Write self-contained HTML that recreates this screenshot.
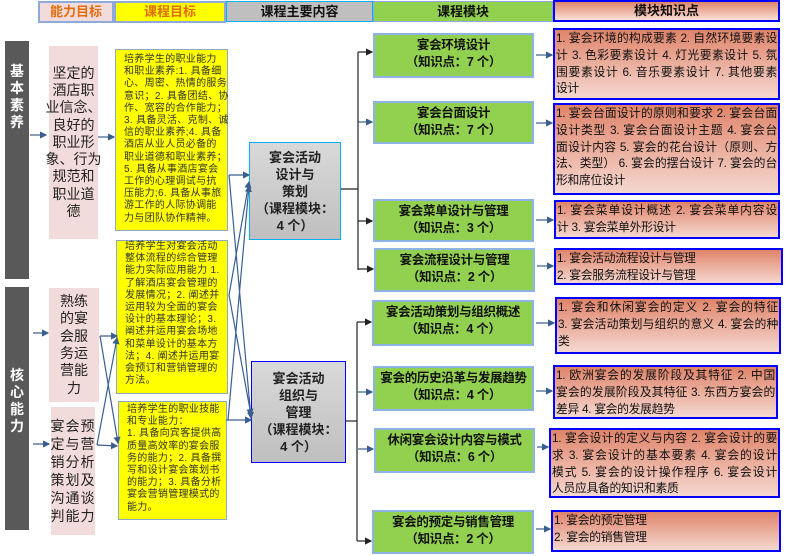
<!DOCTYPE html>
<html><head><meta charset="utf-8"><style>
body{margin:0;width:787px;height:556px;background:#fff;position:relative;overflow:hidden;font-family:"Liberation Sans","Noto Sans CJK SC",sans-serif}
.a{position:absolute;box-sizing:border-box}
.h{font-weight:bold;font-size:13px;text-align:center;line-height:17px}
.bar{background:#595959;color:#fff;font-weight:bold;font-size:14px;width:24px;display:block;text-align:center;line-height:17px}
.bar div{display:block;width:24px;height:17px;text-align:center}
.pk{background:#f2dcdb;color:#222;font-size:14px;line-height:17.3px;text-align:center;display:flex;align-items:center;justify-content:center;white-space:nowrap}
.ye{background:#ffff00;border:1px solid #8ea9c8;font-size:10px;line-height:12.2px;color:#333;padding:2px 4px;white-space:nowrap;letter-spacing:0.3px}
.gr{background:linear-gradient(#d9d9d9,#bfbfbf);font-weight:bold;font-size:13px;line-height:17px;text-align:center;display:flex;align-items:center;justify-content:center;color:#222}
.gn{background:#92d050;border:2px solid #8eb4e3;font-weight:bold;font-size:12.5px;line-height:17px;text-align:center;color:#111;padding-top:2px;letter-spacing:-0.3px}
.kn{background:linear-gradient(#e0846a,#f5d8d0);border:2px solid #0000ff;font-size:11.8px;line-height:16.8px;color:#111;padding:0 1px;letter-spacing:-0.3px}
.j{text-align:justify;text-align-last:justify;white-space:nowrap}
.l{white-space:nowrap}
</style></head><body>
<div class="a h" style="left:38px;top:1px;width:76px;height:22px;border:2px solid #8ea9db;background:#f2dcdb;color:#e26b0a;line-height:18px">能力目标</div>
<div class="a h" style="left:114px;top:1px;width:112px;height:22px;border:2px solid #8ea9db;background:#ffff00;color:#e26b0a;line-height:18px">课程目标</div>
<div class="a h" style="left:226px;top:1px;width:147px;height:21px;border:1px solid #00b0f0;background:#bfbfbf;color:#111;line-height:19px">课程主要内容</div>
<div class="a h" style="left:373px;top:1px;width:180px;height:21px;border:1px solid #8ea9db;background:#92d050;color:#111;line-height:19px">课程模块</div>
<div class="a h" style="left:553px;top:0px;width:227px;height:22px;border:2px solid #0000ff;background:linear-gradient(#e0846a,#f8e0d8);color:#111;line-height:18px">模块知识点</div>

<div class="a bar" style="left:5px;top:41px;height:238px;padding-top:22px"><div>基</div><div>本</div><div>素</div><div>养</div></div>
<div class="a bar" style="left:5px;top:287px;height:243px;padding-top:80px"><div>核</div><div>心</div><div>能</div><div>力</div></div>

<div class="a pk" style="left:49px;top:46px;width:49px;height:193px">坚定的<br>酒店职<br>业信念、<br>良好的<br>职业形<br>象、行为<br>规范和<br>职业道<br>德</div>
<div class="a pk" style="left:49px;top:288px;width:50px;height:114px">熟练<br>的宴<br>会服<br>务运<br>营能<br>力</div>
<div class="a pk" style="left:51px;top:407px;width:44px;height:128px;line-height:18px;letter-spacing:1px">宴会预<br>定与营<br>销分析<br>策划及<br>沟通谈<br>判能力</div>

<div class="a ye" style="left:115px;top:49px;width:113px;height:182px;padding-top:4px;padding-left:8px">培养学生的职业能力<br>和职业素养:1. 具备细<br>心、周密、热情的服务<br>意识；2. 具备团结、协<br>作、宽容的合作能力；<br>3. 具备灵活、克制、诚<br>信的职业素养;4. 具备<br>酒店从业人员必备的<br>职业道德和职业素养；<br>5. 具备从事酒店宴会<br>工作的心理调试与抗<br>压能力;6. 具备从事旅<br>游工作的人际协调能<br>力与团队协作精神。</div>
<div class="a ye" style="left:116px;top:240px;width:112px;height:154px;padding-top:0;padding-left:8px">培养学生对宴会活动<br>整体流程的综合管理<br>能力实际应用能力 1.<br>了解酒店宴会管理的<br>发展情况；2. 阐述并<br>运用较为全面的宴会<br>设计的基本理论；3.<br>阐述并运用宴会场地<br>和菜单设计的基本方<br>法；4. 阐述并运用宴<br>会预订和营销管理的<br>方法。</div>
<div class="a ye" style="left:118px;top:401px;width:109px;height:119px;padding-top:2px;padding-left:8px">培养学生的职业技能<br>和专业能力：<br>1. 具备向宾客提供高<br>质量高效率的宴会服<br>务的能力；2. 具备撰<br>写和设计宴会策划书<br>的能力；3. 具备分析<br>宴会营销管理模式的<br>能力。</div>

<div class="a gr" style="left:249px;top:142px;width:92px;height:98px;border:1px solid #00b0f0">宴会活动<br>设计与<br>策划<br>（课程模块：<br>4 个）</div>
<div class="a gr" style="left:251px;top:361px;width:95px;height:102px;border:1px solid #0000ff">宴会活动<br>组织与<br>管理<br>（课程模块：<br>4 个）</div>

<div class="a gn" style="left:373px;top:33px;width:161px;height:45px">宴会环境设计<br>（知识点：7 个）</div>
<div class="a gn" style="left:373px;top:101px;width:161px;height:43px">宴会台面设计<br>（知识点：7 个）</div>
<div class="a gn" style="left:373px;top:199px;width:161px;height:43px">宴会菜单设计与管理<br>（知识点：3 个）</div>
<div class="a gn" style="left:374px;top:248px;width:161px;height:44px">宴会流程设计与管理<br>（知识点：2 个）</div>
<div class="a gn" style="left:372px;top:300px;width:162px;height:46px">宴会活动策划与组织概述<br>（知识点：4 个）</div>
<div class="a gn" style="left:373px;top:366px;width:161px;height:45px">宴会的历史沿革与发展趋势<br>（知识点：4 个）</div>
<div class="a gn" style="left:374px;top:428px;width:161px;height:45px">休闲宴会设计内容与模式<br>（知识点：6 个）</div>
<div class="a gn" style="left:372px;top:510px;width:162px;height:44px">宴会的预定与销售管理<br>（知识点：2 个）</div>

<div class="a kn" style="left:553px;top:28px;width:227px;height:72px"><div class="j">1. 宴会环境的构成要素 2. 自然环境要素设</div><div class="j">计 3. 色彩要素设计 4. 灯光要素设计 5. 氛</div><div class="j">围要素设计 6. 音乐要素设计 7. 其他要素</div><div class="l">设计</div></div>
<div class="a kn" style="left:553px;top:103px;width:227px;height:92px"><div class="j">1. 宴会台面设计的原则和要求 2. 宴会台面</div><div class="j">设计类型 3. 宴会台面设计主题 4. 宴会台</div><div class="j">面设计内容 5. 宴会的花台设计（原则、方</div><div class="j">法、类型） 6. 宴会的摆台设计 7. 宴会的台</div><div class="l">形和席位设计</div></div>
<div class="a kn" style="left:554px;top:200px;width:226px;height:39px"><div class="j">1. 宴会菜单设计概述 2. 宴会菜单内容设</div><div class="l">计 3. 宴会菜单外形设计</div></div>
<div class="a kn" style="left:554px;top:248px;width:229px;height:37px"><div class="l">1. 宴会活动流程设计与管理</div><div class="l">2. 宴会服务流程设计与管理</div></div>
<div class="a kn" style="left:555px;top:297px;width:226px;height:57px"><div class="j">1. 宴会和休闲宴会的定义 2. 宴会的特征</div><div class="j">3. 宴会活动策划与组织的意义 4. 宴会的种</div><div class="l">类</div></div>
<div class="a kn" style="left:553px;top:365px;width:225px;height:54px"><div class="j">1. 欧洲宴会的发展阶段及其特征 2. 中国</div><div class="j">宴会的发展阶段及其特征 3. 东西方宴会的</div><div class="l">差异 4. 宴会的发展趋势</div></div>
<div class="a kn" style="left:549px;top:428px;width:231px;height:70px"><div class="j">1. 宴会设计的定义与内容 2. 宴会设计的要</div><div class="j">求 3. 宴会设计的基本要素 4. 宴会的设计</div><div class="j">模式 5. 宴会的设计操作程序 6. 宴会设计</div><div class="l">人员应具备的知识和素质</div></div>
<div class="a kn" style="left:551px;top:510px;width:230px;height:42px"><div class="l">1. 宴会的预定管理</div><div class="l">2. 宴会的销售管理</div></div>

<svg class="a" style="left:0;top:0" width="787" height="556">
<defs><marker id="m" markerWidth="6" markerHeight="6" refX="5" refY="3" orient="auto"><path d="M0,0L6,3L0,6z" fill="#3a5f8f"/></marker>
<marker id="k" markerWidth="6" markerHeight="6" refX="5" refY="3" orient="auto"><path d="M0,0L6,3L0,6z" fill="#222"/></marker></defs>
<g stroke="#3a5f8f" stroke-width="1.2" fill="none" marker-end="url(#m)">
<line x1="30" y1="135" x2="46" y2="135"/><line x1="98" y1="137" x2="114" y2="137"/>
<line x1="33" y1="333" x2="48" y2="333"/><line x1="33" y1="444" x2="49" y2="444"/>
<line x1="100" y1="336" x2="117" y2="336"/><line x1="100" y1="336" x2="118" y2="443"/>
<line x1="97" y1="445" x2="117" y2="446"/><line x1="97" y1="445" x2="117" y2="338"/>
<line x1="229" y1="175" x2="249" y2="175"/><line x1="229" y1="175" x2="251" y2="418"/>
<line x1="229" y1="295" x2="249" y2="182"/><line x1="229" y1="295" x2="251" y2="415"/>
<line x1="228" y1="420" x2="249" y2="186"/><line x1="226" y1="420" x2="251" y2="420"/>
<line x1="536" y1="55" x2="552" y2="55"/><line x1="536" y1="123" x2="552" y2="123"/>
<line x1="536" y1="220" x2="553" y2="220"/><line x1="537" y1="266" x2="553" y2="266"/>
<line x1="536" y1="323" x2="554" y2="323"/><line x1="536" y1="391" x2="552" y2="391"/>
<line x1="537" y1="447" x2="548" y2="447"/><line x1="536" y1="529" x2="550" y2="529"/>
<line x1="358" y1="122" x2="372" y2="122"/><line x1="358" y1="392" x2="372" y2="392"/><line x1="358" y1="449" x2="373" y2="449"/>
</g>
<g stroke="#222" stroke-width="1.2" fill="none">
<polyline points="341,189 358,189"/><line x1="358" y1="52" x2="358" y2="270"/>
<line x1="358" y1="52" x2="372" y2="52" marker-end="url(#k)"/><line x1="358" y1="221" x2="372" y2="221" marker-end="url(#k)"/><line x1="358" y1="269" x2="373" y2="269" marker-end="url(#k)"/>
<polyline points="346,421 357,421"/><line x1="357" y1="322" x2="357" y2="541"/>
<line x1="357" y1="322" x2="371" y2="322" marker-end="url(#k)"/><line x1="357" y1="541" x2="371" y2="541" marker-end="url(#k)"/>
</g>
</svg>
</body></html>
